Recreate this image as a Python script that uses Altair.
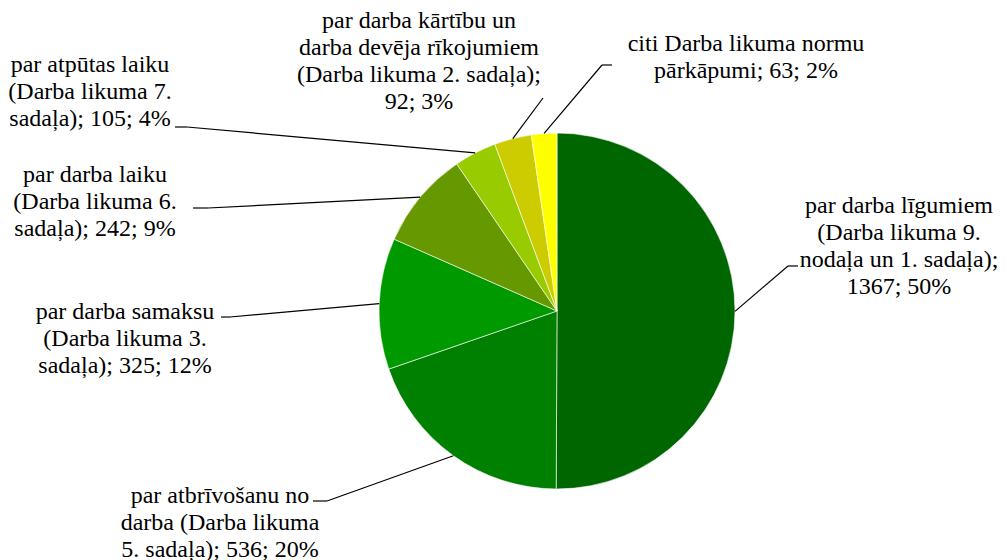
import math
import altair as alt
import pandas as pd

# ---- data ----
categories = [
    "par darba līgumiem (Darba likuma 9. nodaļa un 1. sadaļa)",
    "par atbrīvošanu no darba (Darba likuma 5. sadaļa)",
    "par darba samaksu (Darba likuma 3. sadaļa)",
    "par darba laiku (Darba likuma 6. sadaļa)",
    "par atpūtas laiku (Darba likuma 7. sadaļa)",
    "par darba kārtību un darba devēja rīkojumiem (Darba likuma 2. sadaļa)",
    "citi Darba likuma normu pārkāpumi",
]
values = [1367, 536, 325, 242, 105, 92, 63]
colors = ["#006600", "#008000", "#009900", "#669900", "#99CC00", "#CCCC00", "#FFFF00"]
label_lines = [
    ["par darba līgumiem", "(Darba likuma 9.", "nodaļa un 1. sadaļa);", "1367; 50%"],
    ["par atbrīvošanu no", "darba (Darba likuma", "5. sadaļa); 536; 20%"],
    ["par darba samaksu", "(Darba likuma 3.", "sadaļa); 325; 12%"],
    ["par darba laiku", "(Darba likuma 6.", "sadaļa); 242; 9%"],
    ["par atpūtas laiku", "(Darba likuma 7.", "sadaļa); 105; 4%"],
    ["par darba kārtību un", "darba devēja rīkojumiem", "(Darba likuma 2. sadaļa);", "92; 3%"],
    ["citi Darba likuma normu", "pārkāpumi; 63; 2%"],
]

# ---- layout (pixels within the chart) ----
OFF = 8
CX, CY, R = 557 - OFF, 311 - OFF, 178
label_x = [899, 220, 125, 95, 90, 419, 746]
label_y = [213, 503, 319, 182, 72, 28, 51]
elbow_x = [788, 327, 230, 208, 187, 543, 602]
elbow_y = [266, 501, 317, 208, 127, 98, 65]
tick_x = [798, 313, 221, 193, 175, 543, 612]

total = sum(values)
pie_df = pd.DataFrame({
    "idx": list(range(len(values))),
    "category": categories,
    "value": values,
})

# leader line segments: slice mid-angle on the rim -> elbow -> tick end
segs = []
cum = 0
for i, v in enumerate(values):
    mid = (cum + v / 2) / total * 2 * math.pi
    cum += v
    px = CX + R * math.sin(mid)
    py = CY - R * math.cos(mid)
    ex, ey = elbow_x[i] - OFF, elbow_y[i] - OFF
    tx = tick_x[i] - OFF
    segs.append({"x": px, "y": py, "x2": ex, "y2": ey})
    if abs(tx - ex) > 0.5:
        segs.append({"x": ex, "y": ey, "x2": tx, "y2": ey})
seg_df = pd.DataFrame(segs)

lab_df = pd.DataFrame({
    "x": [v - OFF for v in label_x],
    "y": [v - OFF for v in label_y],
    "text": ["\n".join(l) for l in label_lines],
})

FONT = "Liberation Serif"

pie = alt.Chart(pie_df).mark_arc(
    outerRadius=R, stroke="#ffffff", strokeWidth=0.6
).encode(
    theta=alt.Theta("value:Q", stack=True),
    order=alt.Order("idx:Q", sort="ascending"),
    color=alt.Color("category:N", scale=alt.Scale(domain=categories, range=colors), legend=None),
    x=alt.value(CX),
    y=alt.value(CY),
)

rules = alt.Chart(seg_df).mark_rule(color="#000000", strokeWidth=1.2).encode(
    x=alt.X("x:Q", scale=None),
    y=alt.Y("y:Q", scale=None),
    x2="x2:Q",
    y2="y2:Q",
)

labels = alt.Chart(lab_df).mark_text(
    font=FONT, fontSize=24, lineBreak="\n", lineHeight=27,
    align="center", baseline="alphabetic", color="#000000"
).encode(
    x=alt.X("x:Q", scale=None),
    y=alt.Y("y:Q", scale=None),
    text="text:N",
)

chart = alt.layer(pie, rules, labels).properties(
    width=991, height=552, padding=0,
    autosize=alt.AutoSizeParams(type="none"),
).configure_view(stroke=None)

chart.save("out.html", embed_options={"renderer": "svg", "actions": False})
